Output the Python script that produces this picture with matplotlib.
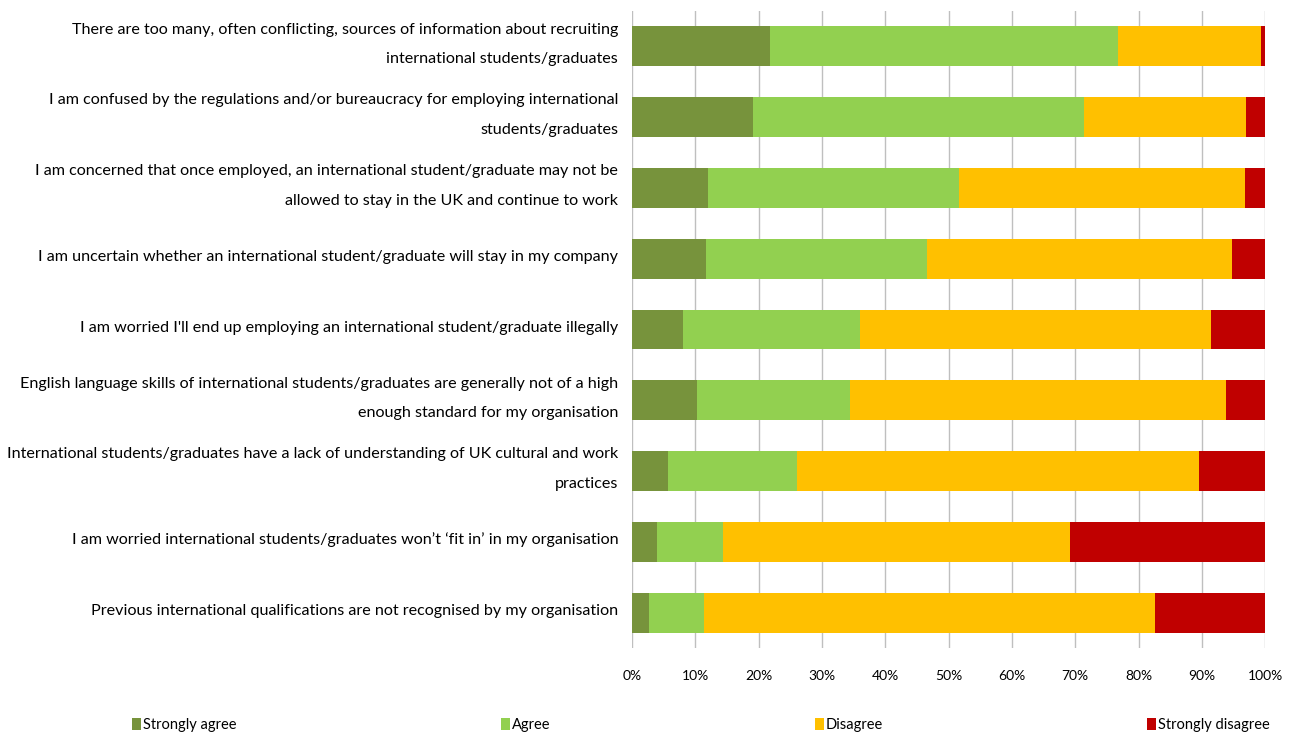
import matplotlib.pyplot as plt
import matplotlib.transforms as mtransforms
from matplotlib.ticker import PercentFormatter

plt.rcParams['font.family'] = ['Lato', 'DejaVu Sans']

# Statements (top to bottom)
statements = [
    "There are too many, often conflicting, sources of information about recruiting\ninternational students/graduates",
    "I am confused by the regulations and/or bureaucracy for employing international\nstudents/graduates",
    "I am concerned that once employed, an international student/graduate may not be\nallowed to stay in the UK and continue to work",
    "I am uncertain whether an international student/graduate will stay in my company",
    "I am worried I'll end up employing an international student/graduate illegally",
    "English language skills of international students/graduates are generally not of a high\nenough standard for my organisation",
    "International students/graduates have a lack of understanding of UK cultural and work\npractices",
    "I am worried international students/graduates won\u2019t \u2018fit in\u2019 in my organisation",
    "Previous international qualifications are not recognised by my organisation",
]

# Share of respondents (%) per response
strongly_agree = [21.8, 19.1, 12.0, 11.6, 8.0, 10.3, 5.7, 4.0, 2.6]
agree = [54.9, 52.3, 39.7, 35.0, 28.0, 24.1, 20.3, 10.3, 8.7]
disagree = [22.6, 25.6, 45.1, 48.2, 55.5, 59.4, 63.6, 54.8, 71.3]
strongly_disagree = [0.7, 3.0, 3.2, 5.2, 8.5, 6.2, 10.4, 30.9, 17.4]

series = [
    ("Strongly agree", strongly_agree, "#77933C"),
    ("Agree", agree, "#92D050"),
    ("Disagree", disagree, "#FFC000"),
    ("Strongly disagree", strongly_disagree, "#C00000"),
]

fig = plt.figure(figsize=(12.91, 7.35), dpi=100)
ax = fig.add_axes([0.4896, 0.1184, 0.4904, 0.8666])

y = list(range(len(statements)))
left = [0.0] * len(statements)
for name, vals, col in series:
    ax.barh(y, vals, left=left, height=0.565, color=col, label=name, zorder=3)
    left = [l + v for l, v in zip(left, vals)]

ax.set_xlim(0, 100)
ax.set_ylim(len(statements) - 0.5, -0.5)
ax.set_xticks(range(0, 101, 10))
ax.xaxis.set_major_formatter(PercentFormatter(decimals=0))
ax.set_yticks(y)
ax.set_yticklabels(statements, fontsize=11.6, linespacing=2.4)
ax.tick_params(axis='y', length=0, pad=10)
ax.tick_params(axis='x', length=0, pad=16, labelsize=10)
ax.grid(True, axis='x', color='#BFBFBF', linewidth=1, zorder=0)
for s in ax.spines.values():
    s.set_visible(False)

# labels sit a touch above the bar centres
lift = mtransforms.ScaledTranslation(0, 2 / 100, fig.dpi_scale_trans)
for lab in ax.get_yticklabels():
    lab.set_va('center')
    lab.set_transform(lab.get_transform() + lift)

fig.legend(loc='lower left', bbox_to_anchor=(126 / 1291, -0.004, 1150 / 1291, 0.03),
           mode='expand', ncol=4, frameon=False, fontsize=10.5,
           handlelength=0.6, handleheight=0.9, handletextpad=0.15, borderaxespad=0)

plt.savefig("out.png", dpi=100)
